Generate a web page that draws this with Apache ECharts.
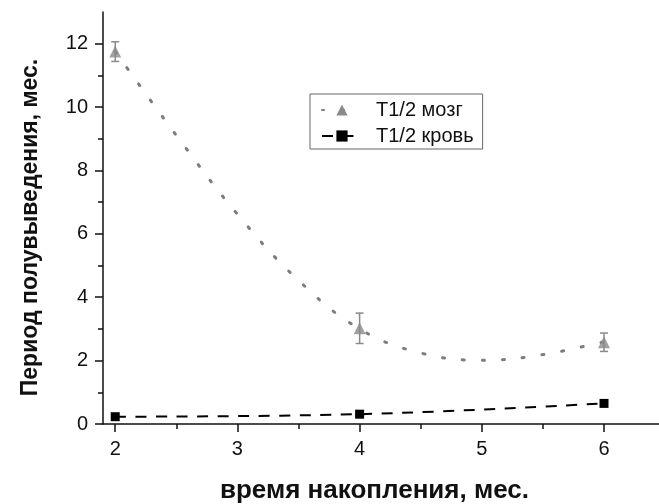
<!DOCTYPE html>
<html>
<head>
<meta charset="utf-8">
<script src="https://cdn.jsdelivr.net/npm/echarts@6/dist/echarts.min.js"></script>
<style>
html, body { margin: 0; padding: 0; background: #fff; }
#chart { width: 659px; height: 504px; }
</style>
</head>
<body>
<div id="chart"></div>
<script>
// измеренные точки
var months = [2, 4, 6];
var brainT = [11.75, 3.02, 2.58];
var brainErr = [0.31, 0.48, 0.29];
var bloodT = [0.23, 0.31, 0.65];
// сглаженная кривая для мозга
var brainCurveX = [2, 2.5, 3, 3.5, 4, 4.5, 5, 5.5, 6];
var brainCurveY = [11.75, 9.11, 6.62, 4.53, 3.0, 2.24, 2.01, 2.19, 2.6];
// деления осей
var xTicks = [2, 3, 4, 5, 6];
var xMinorTicks = [2.5, 3.5, 4.5, 5.5];
var yTicks = [0, 2, 4, 6, 8, 10, 12];
var yMinorTicks = [1, 3, 5, 7, 9, 11];

var gray = '#8a8a8a';
var font = 'Liberation Sans, Arial, sans-serif';

var chart = echarts.init(document.getElementById('chart'));

function zip(a, b) {
  return a.map(function (v, i) { return [v, b[i]]; });
}

var axisLineStyle = { color: '#111', width: 1.5 };

chart.setOption({
  backgroundColor: '#fff',
  animation: false,
  textStyle: { fontFamily: font },
  grid: { left: 103, right: 0, top: 12, bottom: 80, outerBoundsMode: 'none' },
  legend: {
    orient: 'vertical',
    left: 310,
    top: 94,
    padding: [6, 9, 3, 11],
    itemGap: 6,
    itemWidth: 40,
    itemHeight: 14,
    borderColor: '#666',
    borderWidth: 1,
    textStyle: { fontSize: 20, color: '#111', padding: [0, 0, 0, 9] },
    data: ['T1/2 мозг', 'T1/2 кровь']
  },
  xAxis: [
    {
      type: 'value', min: 1.9, max: 6.45, position: 'bottom',
      axisLine: { show: true, onZero: false, lineStyle: axisLineStyle },
      axisTick: { show: true, customValues: xTicks, length: 8, lineStyle: axisLineStyle },
      axisLabel: { customValues: xTicks, fontSize: 20, color: '#111', margin: 15 },
      splitLine: { show: false },
      name: 'время накопления, мес.',
      nameLocation: 'middle',
      nameGap: 54,
      nameTextStyle: { fontSize: 26, fontWeight: 'bold', color: '#111', padding: [0, 13, 0, 0] }
    },
    {
      type: 'value', min: 1.9, max: 6.45, position: 'bottom',
      axisLine: { show: false },
      axisTick: { show: true, customValues: xMinorTicks, length: 5, lineStyle: axisLineStyle },
      axisLabel: { show: false },
      splitLine: { show: false }
    }
  ],
  yAxis: [
    {
      type: 'value', min: 0, max: 13, position: 'left',
      axisLine: { show: true, onZero: false, lineStyle: axisLineStyle },
      axisTick: { show: true, customValues: yTicks, length: 8, lineStyle: axisLineStyle },
      axisLabel: { customValues: yTicks, fontSize: 20, color: '#111', margin: 15 },
      splitLine: { show: false },
      name: 'Период полувыведения, мес.',
      nameLocation: 'middle',
      nameGap: 61,
      nameTextStyle: { fontSize: 23, fontWeight: 'bold', color: '#111', padding: [0, 19, 0, 0] }
    },
    {
      type: 'value', min: 0, max: 13, position: 'left',
      axisLine: { show: false },
      axisTick: { show: true, customValues: yMinorTicks, length: 5, lineStyle: axisLineStyle },
      axisLabel: { show: false },
      splitLine: { show: false }
    }
  ],
  series: [
    {
      name: 'T1/2 мозг',
      type: 'line',
      smooth: 0.4,
      data: zip(brainCurveX, brainCurveY),
      showSymbol: false,
      symbol: 'triangle',
      symbolSize: 14,
      itemStyle: { color: gray },
      lineStyle: { color: '#7d7d7d', width: 3, type: [2, 18], cap: 'round' },
      z: 2
    },
    {
      name: 'мозг',
      type: 'custom',
      data: months.map(function (m, i) { return [m, brainT[i] - brainErr[i], brainT[i] + brainErr[i]]; }),
      renderItem: function (params, api) {
        var top = api.coord([api.value(0), api.value(2)]);
        var bot = api.coord([api.value(0), api.value(1)]);
        var w = 4;
        var st = { stroke: gray, lineWidth: 1.5 };
        return {
          type: 'group',
          children: [
            { type: 'line', shape: { x1: top[0], y1: top[1], x2: bot[0], y2: bot[1] }, style: st },
            { type: 'line', shape: { x1: top[0] - w, y1: top[1], x2: top[0] + w, y2: top[1] }, style: st },
            { type: 'line', shape: { x1: bot[0] - w, y1: bot[1], x2: bot[0] + w, y2: bot[1] }, style: st }
          ]
        };
      },
      z: 3
    },
    {
      name: 'мозг точки',
      type: 'scatter',
      data: zip(months, brainT),
      symbol: 'triangle',
      symbolSize: 12,
      itemStyle: { color: gray },
      z: 4
    },
    {
      name: 'T1/2 кровь',
      type: 'line',
      smooth: 0.4,
      data: zip(months, bloodT),
      symbol: 'rect',
      symbolSize: 9,
      itemStyle: { color: '#000' },
      lineStyle: { color: '#000', width: 2, type: [11, 9.5] },
      z: 4
    }
  ]
});
</script>
</body>
</html>
